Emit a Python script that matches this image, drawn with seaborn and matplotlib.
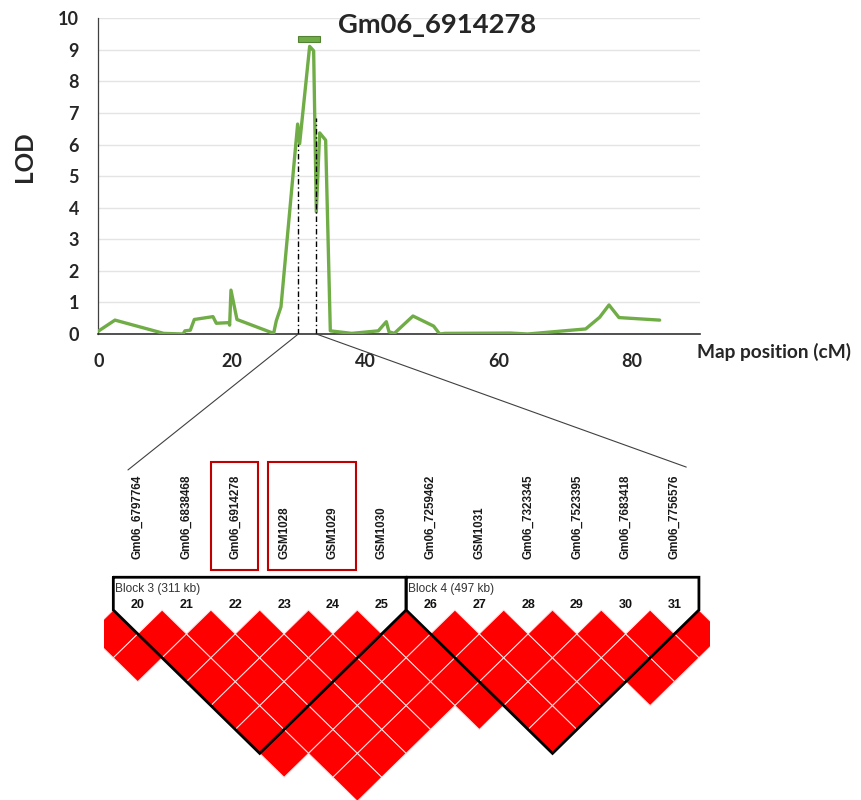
import matplotlib
matplotlib.use("Agg")
import matplotlib.pyplot as plt
import seaborn as sns
import pandas as pd
from matplotlib.patches import Polygon, Rectangle, ConnectionPatch

# ---------------- data ----------------
map_pos = [0.0, 2.5, 9.8, 12.7, 13.0, 13.8, 14.4, 17.2, 17.7, 19.6, 19.7, 19.9, 20.8,
           26.3, 26.7, 27.4, 29.9, 30.2, 31.7, 32.3, 32.7, 33.2, 34.1, 34.8, 38.0,
           42.0, 43.2, 43.6, 44.4, 47.2, 50.3, 51.2, 52.0, 61.8, 64.4, 73.1, 75.2,
           76.6, 78.1, 84.2]
lod = [0.09, 0.44, 0.02, 0.0, 0.10, 0.12, 0.46, 0.55, 0.34, 0.36, 0.28, 1.39, 0.46,
       0.02, 0.42, 0.86, 6.65, 6.03, 9.11, 8.97, 3.87, 6.37, 6.14, 0.10, 0.02,
       0.10, 0.39, 0.07, 0.02, 0.57, 0.25, 0.0, 0.02, 0.03, 0.0, 0.16, 0.53,
       0.92, 0.52, 0.44]

qtl_flank_pos = [30.0, 32.7]
qtl_flank_lod = [6.03, 6.85]
qtl_bar_start = 30.0
qtl_bar_end = 33.3
qtl_bar_lod = 9.35
peak_marker = "Gm06_6914278"

marker_ids = list(range(20, 32))
marker_names = ["Gm06_6797764", "Gm06_6838468", "Gm06_6914278", "GSM1028", "GSM1029",
                "GSM1030", "Gm06_7259462", "GSM1031", "Gm06_7323345", "Gm06_7523395",
                "Gm06_7683418", "Gm06_7756576"]
block_starts = [20, 26]
block_ends = [25, 31]
block_labels = ["Block 3 (311 kb)", "Block 4 (497 kb)"]
highlight_groups = [[22], [23, 24]]

# marker pairs in strong LD (red cells)
ld_outside_left = [(19, 20), (19, 21)]
ld_between_blocks = [(25, 26), (24, 26), (25, 27), (23, 26), (24, 27), (25, 28),
                     (22, 26), (23, 27), (24, 28), (25, 29), (21, 26), (22, 27),
                     (23, 28), (20, 26), (21, 27), (22, 28), (21, 28)]
ld_outside_right = [(31, 32), (30, 32), (29, 32)]

ld_pairs = list(ld_outside_left)
for s, e in zip(block_starts, block_ends):
    for i in range(s, e + 1):
        for j in range(i + 1, e + 1):
            ld_pairs.append((i, j))
ld_pairs += ld_between_blocks + ld_outside_right

# ---------------- style ----------------
sns.set_theme(style="white")
plt.rcParams["font.family"] = ["Lato", "DejaVu Sans"]
GREEN = "#70AD47"
ARIAL = ["Liberation Sans", "DejaVu Sans"]

fig = plt.figure(figsize=(8.61, 8.0), dpi=100)

# ---------------- LOD profile ----------------
ax = fig.add_axes([98.3 / 861, 1 - 334 / 800, (700 - 98.3) / 861, (334 - 18.3) / 800])
df = pd.DataFrame({"pos": map_pos, "lod": lod})
sns.lineplot(data=df, x="pos", y="lod", ax=ax, color=GREEN, linewidth=2.4,
             estimator=None, sort=False, zorder=3)
ax.vlines(qtl_flank_pos, 0, qtl_flank_lod, colors="black", linewidth=1.0,
          linestyles=[(0, (4, 2, 1, 2))], zorder=4)
ax.barh([qtl_bar_lod], [qtl_bar_end - qtl_bar_start], left=[qtl_bar_start], height=0.19,
        color=GREEN, edgecolor="#548235", linewidth=0.8, zorder=4)

ax.set_xlim(0, 90.25)
ax.set_ylim(0, 10)
ax.set_yticks(range(0, 11))
ax.set_xticks([0, 20, 40, 60, 80])
ax.grid(axis="y", color="#E4E4E4", linewidth=1.0)
ax.grid(axis="x", visible=False)
ax.set_axisbelow(True)
for sp in ["top", "right"]:
    ax.spines[sp].set_visible(False)
ax.spines["left"].set_color("#404040")
ax.spines["left"].set_linewidth(0.9)
ax.spines["bottom"].set_color("#333333")
ax.spines["bottom"].set_linewidth(1.2)
ax.tick_params(axis="y", length=0, pad=14, labelsize=13)
ax.tick_params(axis="x", length=0, pad=14, labelsize=13)
for lab in ax.get_xticklabels() + ax.get_yticklabels():
    lab.set_fontweight("bold")
ax.set_xlabel("")
ax.set_ylabel("")

fig.text(25 / 861, 1 - 157 / 800, "LOD", rotation=90, fontsize=17.5, fontweight="bold",
         ha="center", va="center")
fig.text(696.7 / 861, 1 - 358 / 800, "Map position (cM)", fontsize=13.8, fontweight="bold",
         ha="left", va="baseline")
fig.text(338 / 861, 1 - 33 / 800, peak_marker, fontsize=19.7, fontweight="bold",
         ha="left", va="baseline")

# ---------------- LD heatmap ----------------
axl = fig.add_axes([104 / 861, 0, 606 / 861, 360 / 800])
axl.set_xlim(19.309, 31.727)
axl.set_ylim(7.95, -7.113)
axl.axis("off")

for i, j in ld_pairs:
    cx = (i + j) / 2
    d = j - i
    axl.add_patch(Polygon([(cx - 0.5, d), (cx, d - 1), (cx + 0.5, d), (cx, d + 1)],
                          closed=True, facecolor="#FF0000", edgecolor="#FFE2E2",
                          linewidth=0.7, zorder=2))

top_d = -1.37
for s, e, lab in zip(block_starts, block_ends, block_labels):
    xl, xr, xm, depth = s - 0.5, e + 0.5, (s + e) / 2, e - s + 1
    axl.plot([xl, xl, xm, xr, xr, xl], [top_d, 0, depth, 0, top_d, top_d],
             color="black", linewidth=2.0, solid_joinstyle="miter", zorder=5)
    axl.text(xl + 0.04, -0.87, lab, fontsize=8.6, color="#333333", ha="left", va="center",
             family=ARIAL)

for m, name in zip(marker_ids, marker_names):
    axl.text(m, -0.21, str(m), fontsize=9, fontweight="bold", ha="center", va="center",
             family=ARIAL, color="#111111")
    axl.text(m, -2.13, name, fontsize=8.4, fontweight="bold", rotation=90, ha="center",
             va="bottom", family=ARIAL, color="#1a1a1a")

for grp in highlight_groups:
    x0 = min(grp) - 0.5
    x1 = max(grp) + 0.47
    if len(grp) > 1:
        x0 += 0.17
    axl.add_patch(Rectangle((x0, -6.205), x1 - x0, 4.53, fill=False,
                            edgecolor="#C00000", linewidth=1.5, zorder=6))

# zoom lines from QTL flanks to LD plot
ld_ends = [(19.80, -5.86), (31.24, -5.98)]
for xq, end in zip(qtl_flank_pos, ld_ends):
    con = ConnectionPatch(xyA=(xq, 0), coordsA=ax.transData, xyB=end, coordsB=axl.transData,
                          color="#404040", linewidth=0.8)
    fig.add_artist(con)

fig.savefig("out.png", dpi=100)
